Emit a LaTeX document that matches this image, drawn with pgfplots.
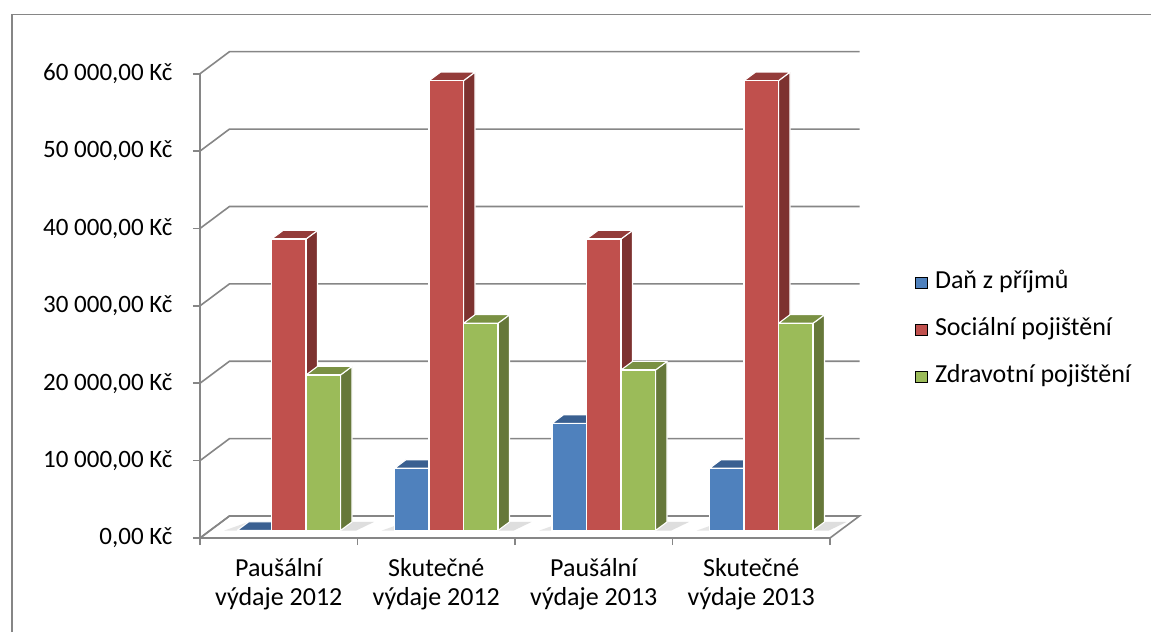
\documentclass[border=0pt]{standalone}
\usepackage{pgfplots}
\pgfplotsset{compat=1.18}
\usepackage{pgfplotstable}
\usepackage{xfp}
\usepackage{fontspec}
\setmainfont{Carlito}

\definecolor{gridgray}{HTML}{868686}
\definecolor{blueF}{HTML}{4F81BD}
\definecolor{blueS}{HTML}{2F4D74}
\definecolor{blueT}{HTML}{3A6091}
\definecolor{redF}{HTML}{C0504D}
\definecolor{redS}{HTML}{7D3230}
\definecolor{redT}{HTML}{943C3A}
\definecolor{greenF}{HTML}{9BBB59}
\definecolor{greenS}{HTML}{66783A}
\definecolor{greenT}{HTML}{7A9143}

% annual payments (Kč) per scenario
\pgfplotstableread{
cat dan soc zdr
0 0 37670 20100
1 8040 58130 26780
2 13850 37670 20740
3 8040 58130 26780
}\costs

% oblique depth of the plot box, in axis units
\def\DX{0.1873}
\def\DY{2845}
% front and back depth of the bars (fraction of box depth), half bar width
\def\dA{0.34}
\def\dB{0.73}
\def\hw{0.1095}

\pgfplotsset{bar edge/.style={draw=white, line width=1.1pt, line join=round}}

% one 3D column: #1 centre, #2 value, #3 front, #4 side, #5 top colour
\newcommand\cuboid[5]{%
  \edef\xl{\fpeval{#1-\hw+\dA*\DX}}%
  \edef\xr{\fpeval{#1+\hw+\dA*\DX}}%
  \edef\yb{\fpeval{\dA*\DY}}%
  \edef\yt{\fpeval{#2+\dA*\DY}}%
  \edef\xlr{\fpeval{\xl+(\dB-\dA)*\DX}}%
  \edef\xrr{\fpeval{\xr+(\dB-\dA)*\DX}}%
  \edef\ybb{\fpeval{\yb+(\dB-\dA)*\DY}}%
  \edef\ytb{\fpeval{\yt+(\dB-\dA)*\DY}}%
  \edef\next{%
    \noexpand\addplot[forget plot, bar edge, fill=#4] coordinates {(\xr,\yb) (\xrr,\ybb) (\xrr,\ytb) (\xr,\yt) (\xr,\yb)};
    \noexpand\addplot[forget plot, bar edge, fill=#5] coordinates {(\xl,\yt) (\xr,\yt) (\xrr,\ytb) (\xlr,\ytb) (\xl,\yt)};
    \noexpand\addplot[forget plot, bar edge, fill=#3] coordinates {(\xl,\yb) (\xr,\yb) (\xr,\yt) (\xl,\yt) (\xl,\yb)};
  }\next
}

% soft floor shadows beside a group
\newcommand\floorshadow[1]{%
  \edef\sxa{\fpeval{#1+0.219+\hw+\dA*\DX}}%
  \edef\sxb{\fpeval{\sxa+0.10}}%
  \edef\sxc{\fpeval{\sxa+(\dB-\dA)*\DX+0.14}}%
  \edef\sxd{\fpeval{\sxa+(\dB-\dA)*\DX}}%
  \edef\sxe{\fpeval{#1-0.219-\hw+\dA*\DX}}%
  \edef\sxf{\fpeval{\sxe-0.08}}%
  \edef\sxg{\fpeval{\sxe+(\dB-\dA)*\DX}}%
  \edef\sya{\fpeval{\dA*\DY}}%
  \edef\syb{\fpeval{\dB*\DY}}%
  \edef\next{%
    \noexpand\addplot[forget plot, draw=none, fill=black!13] coordinates {(\sxa,\sya) (\sxb,\sya) (\sxc,\syb) (\sxd,\syb) (\sxa,\sya)};
    \noexpand\addplot[forget plot, draw=none, fill=black!10] coordinates {(\sxf,\sya) (\sxe,\sya) (\sxg,\syb) (\sxf,\sya)};
  }\next
}

\begin{document}
\begin{tikzpicture}[font=\fontsize{26}{29}\selectfont]
\path[use as bounding box] (0,0) rectangle (1151pt,632pt);
\draw[gridgray, line width=1.5pt] (12pt,0pt) -- (12pt,617.5pt) -- (1151pt,617.5pt);
\begin{axis}[
  at={(200pt,94pt)}, anchor=south west,
  scale only axis, width=630pt, height=464.3pt,
  xmin=-0.5, xmax=3.5, ymin=0, ymax=60000,
  clip=false,
  scaled y ticks=false,
  axis x line*=bottom, axis y line*=left,
  axis line style={gridgray, line width=1.6pt},
  every tick/.style={gridgray, line width=1.6pt},
  tick align=outside,
  major tick length=7pt, minor tick length=7pt,
  major x tick style={draw=none},
  xtick={0,1,2,3},
  minor xtick={-0.5,0.5,1.5,2.5,3.5},
  xticklabels={{Paušální\\výdaje 2012},{Skutečné\\výdaje 2012},{Paušální\\výdaje 2013},{Skutečné\\výdaje 2013}},
  xticklabel style={align=center, font=\fontsize{26}{29}\selectfont, yshift=-10pt},
  ytick={0,10000,20000,30000,40000,50000,60000},
  yticklabels={{0,00 Kč},{10 000,00 Kč},{20 000,00 Kč},{30 000,00 Kč},{40 000,00 Kč},{50 000,00 Kč},{60 000,00 Kč}},
  yticklabel style={font=\fontsize{25}{28}\selectfont, xshift=-17pt},
  legend image code/.code={\fill[#1] (0pt,-5.7pt) rectangle (11.5pt,5.7pt); \path (15.5pt,0pt);},
  legend style={at={(1.13,0.448)}, anchor=west, draw=none, fill=none,
    font=\fontsize{26}{29}\selectfont, row sep=23pt,
    nodes={inner xsep=4pt, inner ysep=0pt, text height=18pt, text depth=6pt}},
  legend cell align=left,
]
% floor of the plot box
\edef\next{\noexpand\addplot[forget plot, fill=white, draw=gridgray, line width=1.6pt]
  coordinates {(-0.5,0) (3.5,0) (\fpeval{3.5+\DX},\DY) (\fpeval{-0.5+\DX},\DY) (-0.5,0)};}\next
% back-wall gridlines with their side-wall diagonals
\pgfplotsinvokeforeach{0,10000,20000,30000,40000,50000,60000}{
  \edef\next{\noexpand\addplot[forget plot, gridgray, line width=1.6pt]
    coordinates {(-0.5,#1) (\fpeval{-0.5+\DX},\fpeval{#1+\DY}) (\fpeval{3.5+\DX},\fpeval{#1+\DY})};}\next
}
% columns, drawn left to right so nearer faces cover the ones behind
\pgfplotsinvokeforeach{0,1,2,3}{
  \pgfplotstablegetelem{#1}{dan}\of\costs \let\vA\pgfplotsretval
  \pgfplotstablegetelem{#1}{soc}\of\costs \let\vB\pgfplotsretval
  \pgfplotstablegetelem{#1}{zdr}\of\costs \let\vC\pgfplotsretval
  \floorshadow{#1}
  \cuboid{#1-0.219}{\vA}{blueF}{blueS}{blueT}
  \cuboid{#1}{\vB}{redF}{redS}{redT}
  \cuboid{#1+0.219}{\vC}{greenF}{greenS}{greenT}
}
\addlegendimage{fill=blueF}
\addlegendentry{Daň z příjmů}
\addlegendimage{fill=redF}
\addlegendentry{Sociální pojištění}
\addlegendimage{fill=greenF}
\addlegendentry{Zdravotní pojištění}
\end{axis}
\end{tikzpicture}
\end{document}
